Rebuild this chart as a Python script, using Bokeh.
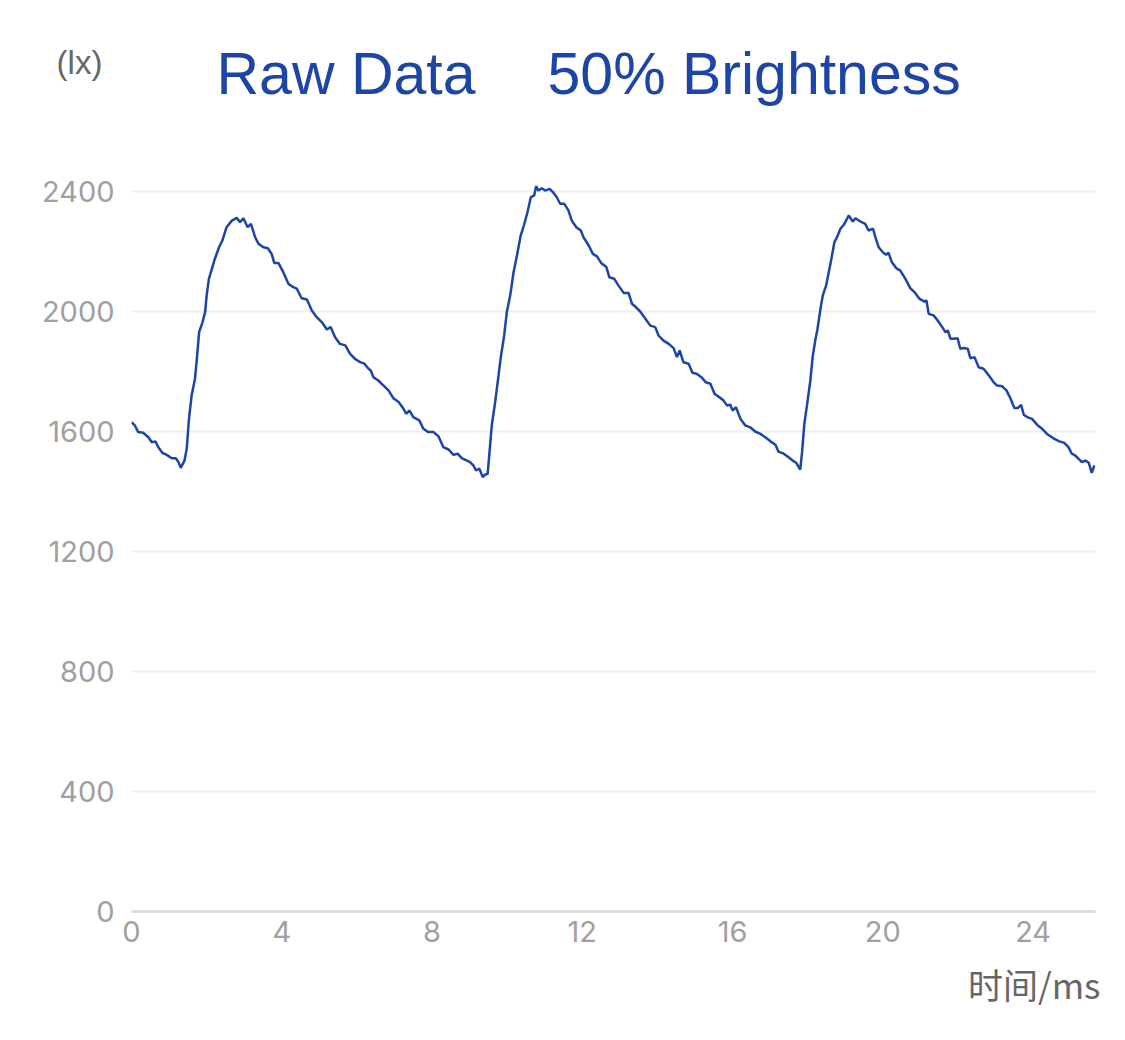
from bokeh.plotting import figure
from bokeh.models import Range1d, FixedTicker
from bokeh.layouts import column
from bokeh.core.properties import value
from bokeh.embed import file_html
from bokeh.resources import INLINE

# ---- data ----
time_ms = [
    0.00, 0.09, 0.18, 0.31, 0.45, 0.54, 0.64, 0.71, 0.82, 0.94, 1.07, 1.18, 1.25, 1.31, 1.41,
    1.47, 1.53, 1.60, 1.69, 1.74, 1.80, 1.89, 1.96, 2.00, 2.06, 2.14, 2.22, 2.33, 2.42, 2.53,
    2.67, 2.80, 2.89, 2.98, 3.09, 3.18, 3.29, 3.38, 3.51, 3.63, 3.73, 3.80, 3.91, 4.04, 4.18,
    4.31, 4.40, 4.53, 4.67, 4.80, 4.93, 5.07, 5.20, 5.30, 5.42, 5.55, 5.69, 5.82, 5.95, 6.09,
    6.20, 6.31, 6.37, 6.44, 6.57, 6.71, 6.84, 6.97, 7.11, 7.24, 7.31, 7.40, 7.50, 7.66, 7.77,
    7.90, 8.04, 8.17, 8.30, 8.44, 8.57, 8.68, 8.79, 8.93, 9.01, 9.10, 9.17, 9.26, 9.35, 9.41,
    9.48, 9.53, 9.59, 9.68, 9.77, 9.83, 9.92, 9.99, 10.08, 10.17, 10.26, 10.36, 10.45, 10.54,
    10.63, 10.72, 10.77, 10.83, 10.92, 11.01, 11.13, 11.23, 11.32, 11.41, 11.52, 11.63, 11.72,
    11.84, 11.96, 12.03, 12.17, 12.28, 12.39, 12.50, 12.64, 12.72, 12.85, 12.96, 13.10, 13.23,
    13.32, 13.43, 13.54, 13.68, 13.81, 13.94, 14.03, 14.16, 14.30, 14.43, 14.52, 14.59, 14.69,
    14.83, 14.93, 15.05, 15.17, 15.29, 15.41, 15.52, 15.65, 15.76, 15.85, 15.94, 16.00, 16.09,
    16.21, 16.34, 16.47, 16.60, 16.74, 16.87, 17.00, 17.14, 17.22, 17.36, 17.49, 17.60, 17.69,
    17.76, 17.80, 17.85, 17.91, 17.98, 18.07, 18.13, 18.20, 18.26, 18.34, 18.40, 18.49, 18.56,
    18.63, 18.71, 18.78, 18.87, 18.96, 19.02, 19.09, 19.20, 19.27, 19.40, 19.53, 19.62, 19.74,
    19.80, 19.89, 20.01, 20.09, 20.15, 20.24, 20.36, 20.46, 20.60, 20.73, 20.86, 20.98, 21.11,
    21.16, 21.22, 21.35, 21.46, 21.58, 21.67, 21.73, 21.80, 21.89, 21.99, 22.06, 22.15, 22.26,
    22.33, 22.44, 22.55, 22.68, 22.82, 22.95, 23.04, 23.17, 23.29, 23.40, 23.50, 23.59, 23.68,
    23.75, 23.84, 23.97, 24.11, 24.24, 24.37, 24.53, 24.68, 24.83, 24.94, 25.03, 25.12, 25.21,
    25.30, 25.39, 25.48, 25.56, 25.63,
]
lux = [
    1631, 1620, 1598, 1596, 1581, 1564, 1567, 1548, 1529, 1522, 1511, 1511, 1498, 1479, 1503,
    1542, 1642, 1720, 1776, 1842, 1931, 1964, 1998, 2053, 2109, 2142, 2176, 2214, 2237, 2281,
    2303, 2312, 2298, 2311, 2281, 2292, 2248, 2226, 2214, 2211, 2192, 2162, 2162, 2131, 2092,
    2081, 2076, 2044, 2040, 2003, 1981, 1964, 1940, 1948, 1914, 1892, 1887, 1859, 1842, 1831,
    1826, 1809, 1803, 1781, 1770, 1753, 1737, 1711, 1698, 1676, 1659, 1670, 1648, 1637, 1609,
    1598, 1598, 1584, 1548, 1540, 1522, 1526, 1511, 1503, 1498, 1487, 1470, 1476, 1448, 1456,
    1459, 1531, 1620, 1698, 1787, 1848, 1920, 1998, 2053, 2131, 2187, 2253, 2289, 2331,
    2381, 2387, 2418, 2403, 2411, 2403, 2409, 2396, 2381, 2359, 2359, 2337, 2303,
    2281, 2270, 2248, 2220, 2192, 2184, 2162, 2148, 2114, 2109, 2087, 2062, 2062,
    2026, 2014, 2000, 1976, 1953, 1948, 1920, 1903, 1892, 1878, 1848, 1870, 1831,
    1826, 1796, 1792, 1781, 1764, 1759, 1726, 1714, 1703, 1687, 1689, 1670, 1681,
    1642, 1620, 1614, 1600, 1592, 1581, 1568, 1556, 1533, 1526, 1514, 1503, 1496,
    1481, 1473, 1531, 1626, 1687, 1770, 1848, 1903, 1942, 2009, 2053, 2087, 2131,
    2176, 2231, 2248, 2276, 2289, 2303, 2320, 2300, 2311, 2300, 2292, 2270, 2276,
    2248, 2214, 2196, 2189, 2196, 2164, 2144, 2137, 2109, 2078, 2062, 2042, 2033,
    2037, 1992, 1987, 1970, 1948, 1931, 1937, 1909, 1909, 1911, 1876, 1878, 1876,
    1844, 1848, 1814, 1809, 1787, 1764, 1753, 1751, 1737, 1709, 1678, 1678, 1689,
    1656, 1648, 1642, 1622, 1609, 1592, 1578, 1568, 1562, 1548, 1526, 1520, 1509,
    1498, 1503, 1496, 1462, 1487,
]
y_ticks = [0, 400, 800, 1200, 1600, 2000, 2400]
x_ticks = [0, 4, 8, 12, 16, 20, 24]
title_left = "Raw Data"
title_right = "50% Brightness"
y_unit = "(lx)"
x_unit = "时间/ms"

BLUE = "#1c45a6"
W = 1117
HEAD_H = 150
MAIN_H = 804
FOOT_H = 78


def blank(height):
    f = figure(width=W, height=height, output_backend="svg", toolbar_location=None,
               x_range=Range1d(0, W), y_range=Range1d(height, 0),
               min_border=0, min_border_left=0, min_border_right=0,
               min_border_top=0, min_border_bottom=0, frame_align=False)
    f.axis.visible = False
    f.grid.visible = False
    f.outline_line_color = None
    f.background_fill_color = "white"
    f.border_fill_color = "white"
    return f


# header with title and unit
head = blank(HEAD_H)
head.text(x=[216, 547], y=[73, 73], text=[title_left, title_right],
          text_font=value("Liberation Sans"), text_font_size="59px",
          text_color=BLUE, text_align="left", text_baseline="middle")
head.text(x=[79], y=[62], text=[y_unit], text_font=value("Liberation Sans"),
          text_font_size="33px", text_color="#666666", text_align="center",
          text_baseline="middle")

# main chart
p = figure(width=W, height=MAIN_H, output_backend="svg", toolbar_location=None,
           x_range=Range1d(0, 25.66), y_range=Range1d(0, 2420),
           min_border_left=131, min_border_right=22, min_border_top=185 - HEAD_H,
           min_border_bottom=HEAD_H + MAIN_H - 911, frame_align=False)
p.outline_line_color = None
p.background_fill_color = "white"
p.border_fill_color = "white"

p.line(time_ms, lux, line_color=BLUE, line_width=2.5)

p.xaxis.ticker = FixedTicker(ticks=x_ticks)
p.yaxis.ticker = FixedTicker(ticks=y_ticks)
for ax in (p.xaxis[0], p.yaxis[0]):
    ax.major_tick_line_color = None
    ax.minor_tick_line_color = None
    ax.major_tick_out = 0
    ax.major_tick_in = 0
    ax.major_label_text_font = "Inter"
    ax.major_label_text_font_size = "29px"
    ax.major_label_text_color = "#a0a0a0"
p.yaxis.axis_line_color = None
p.yaxis.major_label_standoff = 17
p.xaxis.axis_line_color = "#dedede"
p.xaxis.axis_line_width = 3
p.xaxis.major_label_standoff = 9

p.xgrid.grid_line_color = None
p.ygrid.grid_line_color = "#efefef"
p.ygrid.grid_line_width = 2

# footer with x unit
foot = blank(FOOT_H)
foot.text(x=[1100], y=[983 - HEAD_H - MAIN_H], text=[x_unit],
          text_font=value("Noto Sans CJK SC"), text_font_size="35px",
          text_color="#666666", text_align="right", text_baseline="middle")

layout = column(head, p, foot, spacing=0)
open("out.html", "w").write(file_html(layout, INLINE))
